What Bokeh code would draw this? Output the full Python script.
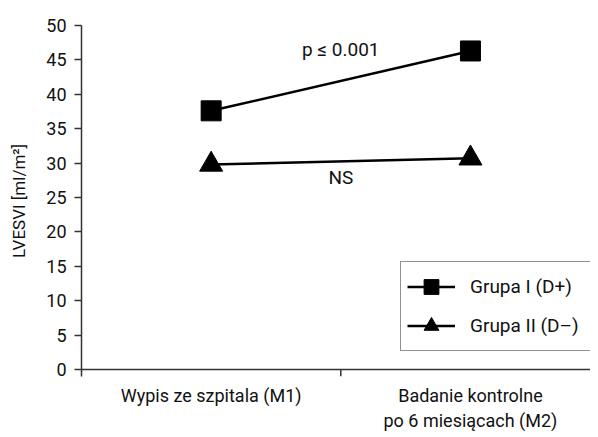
from bokeh.plotting import figure
from bokeh.models import FixedTicker, Span, Legend, LegendItem
from bokeh.core.properties import value
from bokeh.embed import file_html
from bokeh.resources import INLINE

# ---- data ----
categories = ["Wypis ze szpitala (M1)", "Badanie kontrolne\npo 6 miesiącach (M2)"]
group_names = ["Grupa I (D+)", "Grupa II (D–)"]
group1 = [37.6, 46.3]
group2 = [29.8, 30.7]
y_ticks = [0, 5, 10, 15, 20, 25, 30, 35, 40, 45, 50]
annot_text = ["p ≤ 0.001", "NS"]
annot_y = [46.5, 27.9]

FONT = "Roboto"
TXT = "#111111"
AX = "#333333"

xpos = [i + 0.5 for i in range(len(categories))]
divider = [float(i) for i in range(1, len(categories))]

p = figure(frame_width=509, frame_height=351,
           x_range=(0, 1.963), y_range=(-1.0, 50),
           output_backend="svg", toolbar_location=None,
           min_border_left=81, min_border_top=25, min_border_right=0,
           min_border_bottom=53, background_fill_color="white",
           border_fill_color="white", outline_line_color=None)
p.grid.visible = False

# y axis
p.yaxis.ticker = FixedTicker(ticks=y_ticks)
p.yaxis.minor_tick_line_color = None
p.yaxis.major_tick_in = 0
p.yaxis.major_tick_out = 7
p.yaxis.axis_line_color = AX
p.yaxis.axis_line_width = 1.5
p.yaxis.major_tick_line_color = AX
p.yaxis.major_tick_line_width = 1.5
p.yaxis.major_label_text_font = FONT
p.yaxis.major_label_text_font_size = "18px"
p.yaxis.major_label_text_color = TXT
p.yaxis.major_label_standoff = 8
p.yaxis.axis_label = "LVESVI [ml/m²]"
p.yaxis.axis_label_text_font = FONT
p.yaxis.axis_label_text_font_size = "17px"
p.yaxis.axis_label_text_font_style = "normal"
p.yaxis.axis_label_text_color = TXT
p.yaxis.axis_label_standoff = 14

# x axis: category labels only
p.xaxis.ticker = FixedTicker(ticks=xpos)
p.xaxis.major_label_overrides = {x: c for x, c in zip(xpos, categories)}
p.xaxis.axis_line_color = None
p.xaxis.major_tick_line_color = None
p.xaxis.minor_tick_line_color = None
p.xaxis.major_tick_out = 0
p.xaxis.major_tick_in = 0
p.xaxis.major_label_standoff = 8
p.xaxis.major_label_text_font = FONT
p.xaxis.major_label_text_font_size = "18px"
p.xaxis.major_label_text_color = TXT

# x axis line at y=0 and divider tick
p.add_layout(Span(location=0, dimension="width", line_color=AX, line_width=1.5))
p.segment(x0=divider, y0=[0] * len(divider), x1=divider, y1=[-1.0] * len(divider),
          line_color=AX, line_width=1.5)

# series
l1 = p.line(xpos, group1, line_color="black", line_width=2.5)
m1 = p.scatter(xpos, group1, marker="square", size=20, fill_color="black", line_color="black")
l2 = p.line(xpos, group2, line_color="black", line_width=2.5)
m2 = p.scatter(xpos, group2, marker="triangle", size=23, fill_color="black", line_color="black")

# annotations
p.text(x=[1.0, 1.0], y=annot_y, text=annot_text, text_align="center",
       text_baseline="middle", text_font=value(FONT), text_font_size="19px",
       text_color=TXT)

legend = Legend(items=[LegendItem(label=group_names[0], renderers=[l1, m1]),
                       LegendItem(label=group_names[1], renderers=[l2, m2])],
                location=(319, 25), margin=0, padding=6, spacing=2,
                glyph_width=48, glyph_height=37, label_height=37,
                label_width=125, label_standoff=15, label_text_font=FONT,
                label_text_font_size="19px", label_text_color=TXT,
                border_line_color="#222222", border_line_width=1.5,
                background_fill_color="white", background_fill_alpha=1.0)
p.add_layout(legend)

open("out.html", "w").write(file_html(p, INLINE))
